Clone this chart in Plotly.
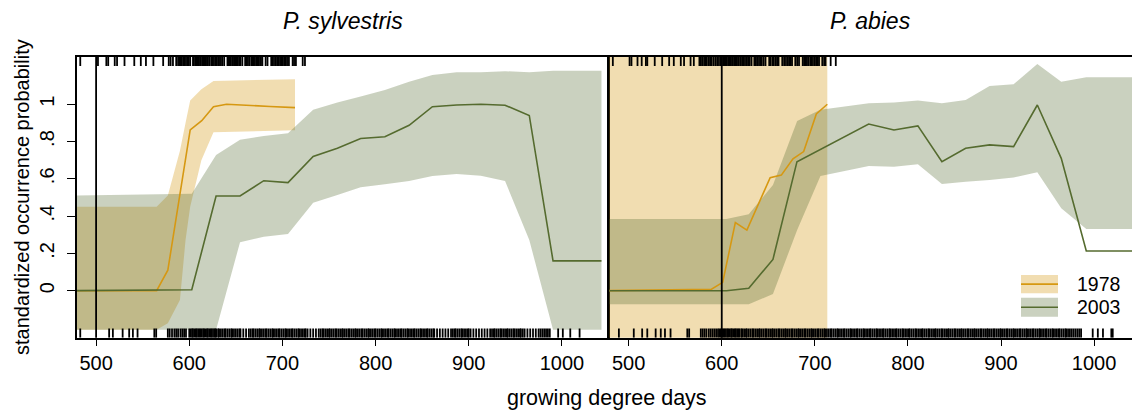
import plotly.graph_objects as go

# ---------------- data ----------------
# P. sylvestris, 1978
syl78_gdd = [470, 565, 577, 601, 613.4, 626, 640, 661.7, 686.7, 713.5]
syl78_p = [0, 0, 0.11, 0.862, 0.912, 0.987, 1.0, 0.996, 0.988, 0.982]
syl78_band_gdd = [470, 565, 577, 590, 596, 601, 613, 626, 713.5]
syl78_upper = [0.45, 0.45, 0.51, 0.75, 0.9, 1.02, 1.08, 1.125, 1.134]
syl78_lower = [-0.21, -0.21, -0.175, -0.05, 0.27, 0.45, 0.7, 0.85, 0.86]

# P. sylvestris, 2003
syl03_gdd = [470, 602.7, 628.8, 654.5, 680, 706, 733, 759, 784, 810, 836, 861, 887, 913, 939, 965, 990.5, 1042.5]
syl03_p = [0, 0.005, 0.508, 0.508, 0.59, 0.58, 0.72, 0.764, 0.816, 0.826, 0.887, 0.987, 0.996, 1.0, 0.995, 0.94, 0.16, 0.16]
syl03_upper = [0.51, 0.52, 0.728, 0.81, 0.83, 0.845, 0.97, 1.009, 1.041, 1.077, 1.121, 1.157, 1.172, 1.172, 1.177, 1.172, 1.18, 1.18]
syl03_lower = [-0.21, -0.21, -0.21, 0.26, 0.29, 0.304, 0.472, 0.513, 0.555, 0.571, 0.588, 0.615, 0.626, 0.617, 0.588, 0.272, -0.21, -0.21]

# P. abies, 1978
abi78_gdd = [470, 589, 601, 614.6, 627, 652, 664, 676.5, 688, 701.6, 713.4]
abi78_p = [0, 0.008, 0.045, 0.365, 0.325, 0.606, 0.62, 0.707, 0.746, 0.948, 1.0]
abi78_band_gdd = [470, 713.4]
abi78_upper = [1.3, 1.3]
abi78_lower = [-0.3, -0.3]

# P. abies, 2003
abi03_gdd = [470, 605, 629, 655, 680.8, 757.8, 785, 810.7, 836.5, 862, 887.7, 913.5, 939, 964.7, 991.6, 1042.5]
abi03_p = [0, 0, 0.013, 0.168, 0.692, 0.894, 0.862, 0.884, 0.692, 0.764, 0.782, 0.773, 0.996, 0.71, 0.213, 0.213]
abi03_band_gdd = [470, 605, 629, 655, 681, 706, 758, 785, 810.7, 836.5, 862, 887.7, 913.5, 939, 964.7, 991.6, 1042.5]
abi03_upper = [0.385, 0.385, 0.41, 0.567, 0.91, 0.97, 1.005, 1.009, 1.02, 1.005, 1.023, 1.098, 1.107, 1.216, 1.121, 1.145, 1.145]
abi03_lower = [-0.073, -0.073, -0.073, -0.018, 0.326, 0.615, 0.669, 0.665, 0.678, 0.572, 0.585, 0.594, 0.607, 0.635, 0.442, 0.331, 0.331]

# observation rugs (top: 1978, bottom: 2003)
syl78_rug = [483, 502, 511, 513, 520, 522.5, 530.5, 541, 548, 553.5, 561.5, 572, 578, 580, 582.5, 586,
             588, 589.5, 591, 592, 593.5, 595, 596.5, 598, 599.5, 601,
             604, 605, 606.5, 607.5, 609, 610, 611.5, 612.5, 614, 615, 616.5, 617.5, 619, 620, 621.5,
             623.5, 625, 626.5, 628, 629.5, 631, 632, 634, 635.5, 637.5,
             641, 642, 643.5, 644.5, 646, 647, 648.5, 649.5, 651, 652, 653.5, 655, 657,
             660, 661.5, 663, 664.5, 666.5, 668, 669, 670.5, 672, 673, 674.5, 676, 677, 678.5,
             682, 684, 688, 689.5, 691, 693, 694.5, 696, 697.5, 699, 700.5, 702, 703.5, 705, 707,
             711, 712.5, 714.5, 721.8, 724.2]
syl03_rug = [483, 514, 518, 528.5, 535.5, 539.5, 544.5, 562.5, 564.5,
             577, 579, 581.5, 584, 586, 588, 590.5, 592.5, 594.5, 596.5,
             600, 601.5, 603, 604, 605.5, 607, 608, 609.5, 611, 612, 613.5, 615, 616, 617.5, 619, 620, 621.5, 623, 624, 625.5, 627, 628,
             629, 631, 632, 634, 636, 638, 639, 641, 643, 645, 646, 648, 650, 652, 654, 655, 658, 661, 664, 666, 668, 669, 671, 673,
             675, 676, 678, 680, 682, 683, 685, 687, 689, 690, 692, 694, 696, 697, 699, 701, 703, 704, 706, 708, 710, 711, 713, 715,
             717, 718, 720, 722, 724, 725, 727, 730, 733, 736, 739, 741, 743, 744, 746, 748, 750, 751, 753, 755, 757, 758, 760, 762,
             764, 765, 767, 769, 771, 772, 774, 776, 778, 779, 781, 783, 785, 786, 788, 790, 792, 793, 795, 797, 799, 800, 802, 804,
             806, 807, 809, 811, 813, 814, 816, 818, 820, 821, 823, 825, 827, 828, 830, 832, 834, 835, 837, 839, 841, 842, 844, 846,
             848, 849, 851, 853, 855, 856, 858, 860, 862, 863, 866, 869, 872, 875, 878, 881, 883, 885, 886, 888, 890, 892, 893, 895,
             897, 899, 900, 902, 905, 908, 911, 914, 917, 920, 923, 925, 927, 928, 930, 932, 934, 935, 937, 939, 941, 942, 944, 946,
             948, 949, 951, 953, 955, 956, 958, 960, 963, 966, 969, 972, 975, 977, 979, 981, 983, 985, 987, 996, 1001, 1009, 1019]
abi78_rug = [483, 501, 503, 509.5, 514, 518.5, 520, 528, 536, 543.5, 548.5, 556, 559.5, 566.5, 570,
             576, 577.5, 579, 581, 582.5, 584, 586, 587.5, 589, 591, 593, 595, 597,
             599, 600, 601.5, 603, 604, 605.5, 607, 608, 609.5, 611, 612, 613.5, 615, 616, 617.5, 618.5,
             620.5, 622, 623.5, 625, 627, 628.5, 630, 632, 635, 636.5, 638, 640, 641.5, 643, 645, 647,
             651, 652.5, 654.5, 656, 658, 659.5, 661, 665, 667, 669, 671, 672.5, 674, 675.5, 679, 681, 683,
             687, 688.5, 690, 691.5, 693, 695, 696.5, 698, 700, 701.5, 703, 704.5, 708, 710, 711.5, 717, 722.5]
abi03_rug = [489.5, 505.5, 514.5, 520, 529, 534.5, 539, 545, 563, 565,
             577.5, 579.5, 581.5, 583.5, 586, 588, 590, 592, 594, 596, 597.5,
             599, 600.5, 602, 603, 604.5, 606, 607, 608.5, 610, 611, 612.5, 614, 615, 616.5, 618,
             619, 621, 622, 624, 626, 627, 629, 631, 633, 634, 636, 638, 640, 641, 643, 645, 647, 648, 650, 652, 654, 655, 657,
             659, 661, 662, 664, 666, 668, 669, 671, 673, 675, 676, 678, 680, 682, 683, 685, 687, 689, 690, 692, 694, 696, 697,
             699, 701, 703, 704, 706, 708, 710, 711, 713, 715, 717, 718, 720, 722, 724, 725, 727, 729, 731, 732, 734, 736, 738,
             739, 741, 743, 745, 746, 748, 750, 752, 753, 755, 757, 759, 760, 762, 764, 766, 767, 769, 771, 773, 774, 776, 778,
             780, 781, 783, 785, 787, 788, 790, 792, 794, 795, 797, 799, 801, 802, 804, 806, 808, 809, 811, 813, 815, 816, 818,
             820, 822, 823, 825, 827, 829, 830, 832, 834, 836, 837, 839, 841, 843, 844, 846, 848, 850, 851, 853, 855, 857, 858,
             860, 862, 864, 865, 867, 869, 871, 872, 874, 876, 878, 879, 881, 883, 885, 886, 888, 890, 892, 893, 895, 897, 899,
             900, 902, 904, 906, 907, 909, 911, 913, 914, 916, 918, 920, 921, 923, 925, 927, 928, 930, 932, 934, 935, 937, 939,
             941, 942, 944, 946, 948, 949, 951, 953, 955, 956, 958, 960, 962, 963, 965, 967, 969, 970, 972, 974, 976, 978, 980,
             982, 984, 986, 998.5, 1004, 1009.5, 1018.5, 1020]

panel_titles = ["P. sylvestris", "P. abies"]
ref_lines = [500, 600]
years = ["1978", "2003"]
x_ticks = [500, 600, 700, 800, 900, 1000]
y_ticks = [0, 0.2, 0.4, 0.6, 0.8, 1]
y_ticktext = ["0", ".2", ".4", ".6", ".8", "1"]

# ---------------- style ----------------
W, H = 1132, 410
C78_LINE = "rgb(214,152,18)"
C78_FILL = "rgba(214,152,18,0.33)"
C03_LINE = "rgb(85,107,47)"
C03_FILL = "rgba(85,107,47,0.31)"
FONT = "Liberation Sans, Arial, sans-serif"
YR = [-0.252, 1.255]
RUG = 0.05 * (YR[1] - YR[0]) / 1.507

fig = go.Figure()


def band(x, lo, hi, fill, xa, ya):
    fig.add_trace(go.Scatter(x=list(x) + list(x)[::-1], y=list(hi) + list(lo)[::-1],
                             fill="toself", fillcolor=fill, mode="lines", line=dict(width=0),
                             hoverinfo="skip", showlegend=False, xaxis=xa, yaxis=ya))


def line(x, y, color, xa, ya):
    fig.add_trace(go.Scatter(x=x, y=y, mode="lines", line=dict(color=color, width=1.6),
                             showlegend=False, xaxis=xa, yaxis=ya))


def rug(vals, top, xa, ya):
    xs, ys = [], []
    for v in vals:
        xs += [v, v, None]
        if top:
            ys += [YR[1], YR[1] - RUG, None]
        else:
            ys += [YR[0], YR[0] + RUG, None]
    fig.add_trace(go.Scatter(x=xs, y=ys, mode="lines", line=dict(color="black", width=1.8),
                             hoverinfo="skip", showlegend=False, xaxis=xa, yaxis=ya))


# left panel
band(syl78_band_gdd, syl78_lower, syl78_upper, C78_FILL, "x", "y")
band(syl03_gdd, syl03_lower, syl03_upper, C03_FILL, "x", "y")
line(syl78_gdd, syl78_p, C78_LINE, "x", "y")
line(syl03_gdd, syl03_p, C03_LINE, "x", "y")
rug(syl78_rug, True, "x", "y")
rug(syl03_rug, False, "x", "y")

# right panel
band(abi78_band_gdd, abi78_lower, abi78_upper, C78_FILL, "x2", "y2")
band(abi03_band_gdd, abi03_lower, abi03_upper, C03_FILL, "x2", "y2")
line(abi78_gdd, abi78_p, C78_LINE, "x2", "y2")
line(abi03_gdd, abi03_p, C03_LINE, "x2", "y2")
rug(abi78_rug, True, "x2", "y2")
rug(abi03_rug, False, "x2", "y2")

XD1 = [77 / W, 608 / W]
XD2 = [609.3 / W, 1.0]
YD = [(H - 337.7) / H, (H - 56.7) / H]

axis_common = dict(showgrid=False, zeroline=False, showline=True, linecolor="black", linewidth=1.5,
                   tickfont=dict(family=FONT, size=20, color="black"))
fig.update_layout(
    width=W, height=H, margin=dict(l=0, r=0, t=0, b=0),
    paper_bgcolor="white", plot_bgcolor="rgba(0,0,0,0)",
    font=dict(family=FONT, color="black"),
    xaxis=dict(domain=XD1, range=[479.5, 1049.5], anchor="y", mirror=True, ticks="outside",
               ticklen=7, tickwidth=1.3, tickcolor="black", tickvals=x_ticks, **axis_common),
    yaxis=dict(domain=YD, range=YR, anchor="x", mirror=True, ticks="outside", ticklen=8,
               tickwidth=1.3, tickcolor="black", tickvals=y_ticks, ticktext=y_ticktext,
               tickangle=-90, ticklabelstandoff=5, **axis_common),
    xaxis2=dict(domain=XD2, range=[479.2, 1040.7], anchor="y2", mirror=True, ticks="outside",
                ticklen=7, tickwidth=1.3, tickcolor="black", tickvals=x_ticks, **axis_common),
    yaxis2=dict(domain=YD, range=YR, anchor="x2", mirror=False, showticklabels=False, ticks="",
                **axis_common),
)

# reference vertical lines
fig.add_shape(type="line", xref="x", yref="y domain", x0=ref_lines[0], x1=ref_lines[0], y0=0, y1=1,
              line=dict(color="black", width=1.8))
fig.add_shape(type="line", xref="x2", yref="y2 domain", x0=ref_lines[1], x1=ref_lines[1], y0=0, y1=1,
              line=dict(color="black", width=1.8))

# titles
fig.add_annotation(text="<i>%s</i>" % panel_titles[0], xref="paper", yref="paper",
                   x=(XD1[0] + XD1[1]) / 2, y=(H - 21) / H, showarrow=False,
                   font=dict(family=FONT, size=23, color="black"), xanchor="center", yanchor="middle")
fig.add_annotation(text="<i>%s</i>" % panel_titles[1], xref="paper", yref="paper",
                   x=870.5 / W, y=(H - 21) / H, showarrow=False,
                   font=dict(family=FONT, size=23, color="black"), xanchor="center", yanchor="middle")
fig.add_annotation(text="growing degree days", xref="paper", yref="paper", x=607 / W, y=(H - 398) / H,
                   showarrow=False, font=dict(family=FONT, size=21.5, color="black"),
                   xanchor="center", yanchor="middle")
fig.add_annotation(text="standardized occurrence probability", xref="paper", yref="paper",
                   x=22 / W, y=(H - 197) / H, textangle=-90, showarrow=False,
                   font=dict(family=FONT, size=20, color="black"), xanchor="center", yanchor="middle")

# legend
leg = [(years[0], C78_FILL, C78_LINE, 275, 293.3), (years[1], C03_FILL, C03_LINE, 297.7, 316.7)]
for lab, fc, lc, top, bot in leg:
    fig.add_shape(type="rect", xref="paper", yref="paper", x0=1021 / W, x1=1058 / W,
                  y0=(H - bot) / H, y1=(H - top) / H, fillcolor=fc, line=dict(width=0))
    fig.add_shape(type="line", xref="paper", yref="paper", x0=1021 / W, x1=1058 / W,
                  y0=(H - (top + bot) / 2) / H, y1=(H - (top + bot) / 2) / H, line=dict(color=lc, width=1.6))
    fig.add_annotation(text=lab, xref="paper", yref="paper", x=1075 / W, y=(H - (top + bot) / 2) / H,
                       showarrow=False, font=dict(family=FONT, size=19.5, color="black"),
                       xanchor="left", yanchor="middle")

fig.write_html("out.html")
